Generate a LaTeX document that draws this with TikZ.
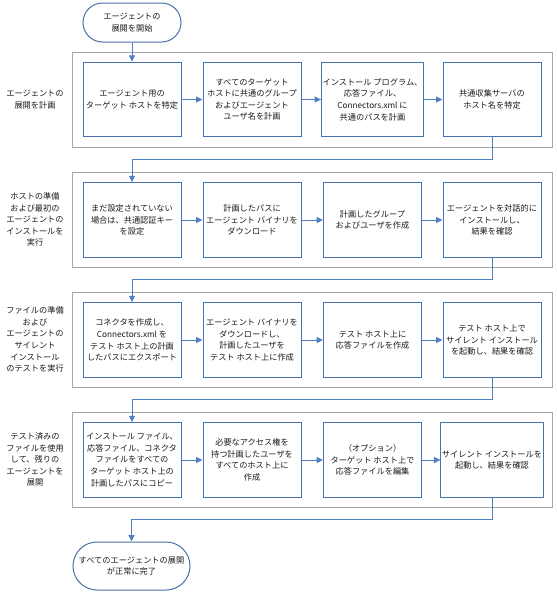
\documentclass[tikz,border=0pt]{standalone}
\usepackage{fontspec}
\setmainfont{Noto Sans CJK JP}
\usetikzlibrary{arrows.meta}
\definecolor{bblue}{HTML}{4A72B0}
\definecolor{lblue}{HTML}{4F7FC5}
\definecolor{fgray}{HTML}{A6A6A6}
\definecolor{tgray}{HTML}{1A1A1A}
\begin{document}
\begin{tikzpicture}[x=1pt,y=-1pt,
  every node/.style={font=\fontsize{8.2}{11.6}\selectfont, text=tgray},
  box/.style={draw=bblue, line width=1pt, minimum width=98pt, minimum height=74.5pt, align=center, inner sep=1pt},
  frame/.style={draw=fgray, line width=1pt},
  term/.style={draw=bblue, line width=1pt, rounded corners=#1, align=center, inner sep=1pt},
  lab/.style={align=center, inner sep=0pt},
  arr/.style={draw=lblue, line width=1pt, -{Triangle[length=6.5pt,width=6pt]}}]
\useasboundingbox (0,0) rectangle (557,592);
\fill[white] (0,0) rectangle (557,592);
% frames
\foreach \t in {52,172,292,412} {
  \draw[frame] (72,\t) rectangle (552,\t+95);
}
% labels
\node[lab] (l1) at (35,99.5) {エージェントの\\展開を計画};
\node[lab] (l2) at (35,219.5) {ホストの準備\\および最初の\\エージェントの\\インストールを\\実行};
\node[lab] (l3) at (35,339.5) {ファイルの準備\\および\\エージェントの\\サイレント\\インストール\\のテストを実行};
\node[lab] (l4) at (35,459.5) {テスト済みの\\ファイルを使用\\して、残りの\\エージェントを\\展開};
% terminals
\node[term=19.5pt, minimum width=98pt, minimum height=39pt] (start) at (132,22.5) {エージェントの\\展開を開始};
\node[term=24pt, minimum width=117pt, minimum height=48pt] (end) at (131.5,566) {すべてのエージェントの展開\\が正常に完了};
% row 1
\node[box] (a1) at (132,99.5) {エージェント用の\\ターゲット ホストを特定};
\node[box] (a2) at (252,99.5) {すべてのターゲット\\ホストに共通のグループ\\およびエージェント\\ユーザ名を計画};
\node[box] (a3) at (372.5,99.5) {インストール プログラム、\\応答ファイル、\\Connectors.xml に\\共通のパスを計画};
\node[box] (a4) at (492,99.5) {共通収集サーバの\\ホスト名を特定};
% row 2
\node[box] (b1) at (132,220) {まだ設定されていない\\場合は、共通認証キー\\を設定};
\node[box] (b2) at (252,220) {計画したパスに\\エージェント バイナリを\\ダウンロード};
\node[box] (b3) at (372.5,220) {計画したグループ\\およびユーザを作成};
\node[box] (b4) at (492,220) {エージェントを対話的に\\インストールし、\\結果を確認};
% row 3
\node[box] (c1) at (132,340) {コネクタを作成し、\\Connectors.xml を\\テスト ホスト上の計画\\したパスにエクスポート};
\node[box] (c2) at (252,340) {エージェント バイナリを\\ダウンロードし、\\計画したユーザを\\テスト ホスト上に作成};
\node[box] (c3) at (372.5,340) {テスト ホスト上に\\応答ファイルを作成};
\node[box] (c4) at (492,340) {テスト ホスト上で\\サイレント インストール\\を起動し、結果を確認};
% row 4
\node[box] (d1) at (132,460) {インストール ファイル、\\応答ファイル、コネクタ\\ファイルをすべての\\ターゲット ホスト上の\\計画したパスにコピー};
\node[box] (d2) at (252,460) {必要なアクセス権を\\持つ計画したユーザを\\すべてのホスト上に\\作成};
\node[box] (d3) at (372.5,460) {（オプション）\\ターゲット ホスト上で\\応答ファイルを編集};
\node[box] (d4) at (492,460) {サイレント インストールを\\起動し、結果を確認};
% junction coordinates
\coordinate (j1) at (0,159);
\coordinate (j2) at (0,279);
\coordinate (j3) at (0,399);
\coordinate (j4) at (0,519);
% connectors
\draw[arr] (start) -- (a1);
\foreach \r in {a,b,c,d} {
  \draw[arr] (\r1) -- (\r2);
  \draw[arr] (\r2) -- (\r3);
  \draw[arr] (\r3) -- (\r4);
}
\draw[arr] (a4.south) -- (a4.south |- j1) -| (b1.north);
\draw[arr] (b4.south) -- (b4.south |- j2) -| (c1.north);
\draw[arr] (c4.south) -- (c4.south |- j3) -| (d1.north);
\draw[arr] (d4.south) -- (d4.south |- j4) -| (end.north);
\end{tikzpicture}
\end{document}
